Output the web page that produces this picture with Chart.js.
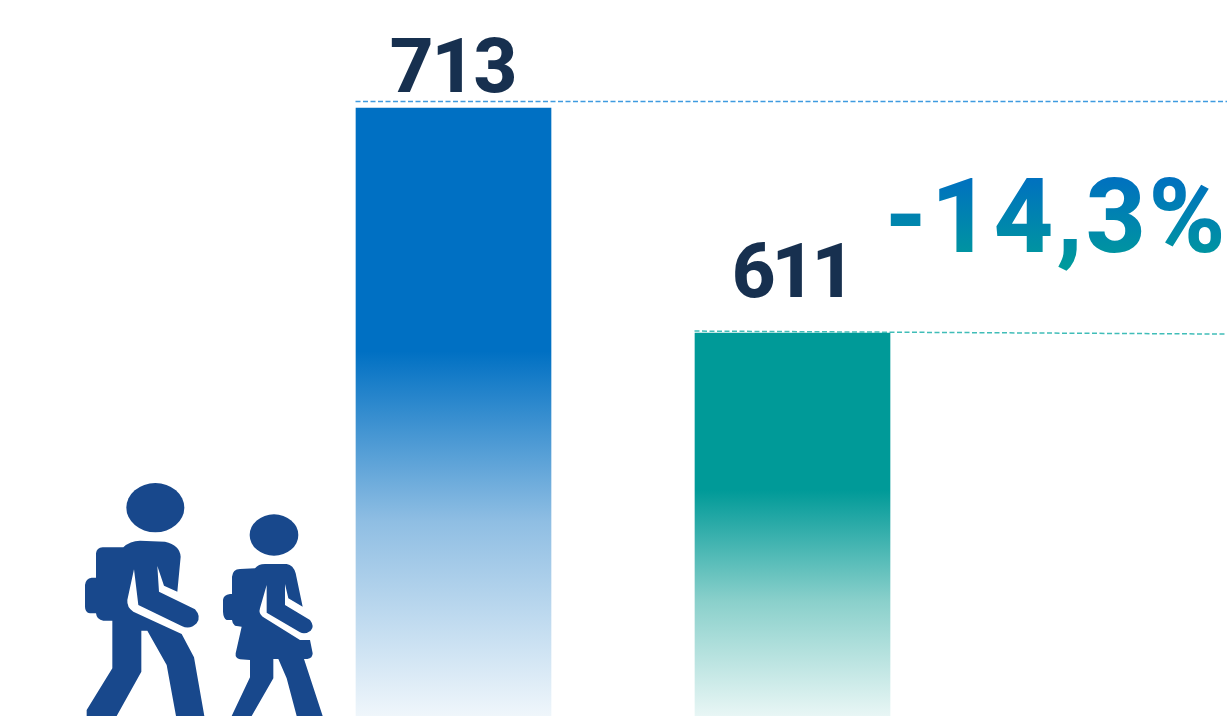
<!DOCTYPE html>
<html>
<head>
<meta charset="utf-8">
<style>html,body{margin:0;padding:0;background:#fff;overflow:hidden}canvas{display:block}</style>
<script src="https://cdn.jsdelivr.net/npm/chart.js@4/dist/chart.umd.min.js"></script>
</head>
<body>
<canvas id="c" width="1227" height="716"></canvas>
<script>
const categories = ['Periodo 1', 'Periodo 2'];
const values = [713, 611];
const barColors = ['#0070C3', '#009A98'];
const midColors = ['#8FBEE3', '#8AD0CB'];
const fadeColors = ['#EFF6FB', '#E8F6F5'];
const fadeStarts = [0.40, 0.41];
const midStops = [0.68, 0.70];
const changeLabel = '-14,3%';

function barFill(ctx) {
  const chart = ctx.chart, area = chart.chartArea;
  if (!area || ctx.dataIndex === undefined) return barColors[0];
  const i = ctx.dataIndex;
  const top = chart.scales.y.getPixelForValue(values[i]);
  const g = chart.ctx.createLinearGradient(0, top, 0, area.bottom);
  g.addColorStop(0, barColors[i]);
  g.addColorStop(fadeStarts[i], barColors[i]);
  g.addColorStop(midStops[i], midColors[i]);
  g.addColorStop(1, fadeColors[i]);
  return g;
}

const manPath = new Path2D('M160,232 Q180,212 210,212 L285,215 Q330,225 332,260 L322,365 L282,347 L262,288 L267,365 L375,418 Q395,440 380,460 Q360,480 335,468 L205,405 L192,298 L172,390 Q170,412 190,425 L335,492 L372,562 L403,738 L318,738 L290,585 L232,482 L214,482 L214,605 L140,738 L50,738 L50,720 L127,595 L127,452 L100,452 Q80,450 78,430 L60,430 Q45,428 45,410 L45,345 Q47,325 65,323 L78,323 L78,250 Q80,233 98,232 Z');
const girlPath = new Path2D('M555,295 Q565,282 585,282 L650,282 Q670,285 677,310 L698,410 L655,385 L645,342 L645,405 L720,450 Q735,470 722,482 Q705,495 690,487 L590,428 L590,345 L570,415 Q565,430 578,440 L690,510 L720,510 L728,550 Q728,565 712,567 L702,567 L758,738 L680,738 L650,625 L625,567 L610,567 L610,625 L545,738 L485,738 L540,622 L540,570 L510,568 Q495,565 497,550 L515,470 L495,467 Q487,462 486,450 L470,450 Q460,445 459,425 L459,390 Q460,375 480,372 L486,372 L486,320 Q488,298 510,297 Z');

const decor = {
  id: 'decor',
  afterDatasetsDraw(chart) {
    const c = chart.ctx, y = chart.scales.y, meta = chart.getDatasetMeta(0);
    c.save();
    c.lineWidth = 1.5; c.setLineDash([5, 2.5]);
    const y0 = y.getPixelForValue(values[0]), y1 = y.getPixelForValue(values[1]);
    c.strokeStyle = '#3F9BE0';
    c.beginPath(); c.moveTo(meta.data[0].x - 98, y0 - 6.5); c.lineTo(1227, y0 - 6.5); c.stroke();
    c.strokeStyle = '#40BDB8';
    c.beginPath(); c.moveTo(meta.data[1].x - 98, y1 - 2); c.lineTo(1227, y1 + 1); c.stroke();
    c.setLineDash([]);
    c.fillStyle = '#17304F'; c.textAlign = 'center'; c.textBaseline = 'alphabetic';
    c.font = '800 76px Roboto';
    c.letterSpacing = '-2px';
    c.fillText(String(values[0]), meta.data[0].x - 1, y0 - 16);
    c.letterSpacing = '-4px';
    c.fillText(String(values[1]), meta.data[1].x - 1, y1 - 36);
    const g = c.createLinearGradient(0, 176, 0, 266);
    g.addColorStop(0, '#0070C0'); g.addColorStop(1, '#009A9C');
    c.fillStyle = g; c.font = '800 104px Roboto'; c.textAlign = 'left';
    c.letterSpacing = '2.8px';
    c.fillText(changeLabel, 884, 252);
    c.letterSpacing = '0px';
    c.translate(70, 470); c.scale(1/3, 1/3);
    c.fillStyle = '#18488C';
    c.fill(manPath); c.fill(girlPath);
    c.beginPath(); c.ellipse(256, 113, 87, 74, 0, 0, 2*Math.PI); c.fill();
    c.beginPath(); c.ellipse(612, 195, 73, 62, 0, 0, 2*Math.PI); c.fill();
    c.restore();
  }
};

new Chart(document.getElementById('c'), {
  type: 'bar',
  data: { labels: categories, datasets: [{ data: values, backgroundColor: barFill, barThickness: 195, borderWidth: 0 }] },
  plugins: [decor],
  options: {
    responsive: false, animation: false,
    layout: { padding: { left: 284, right: 265, top: 0, bottom: 0 } },
    plugins: { legend: { display: false }, tooltip: { enabled: false } },
    scales: {
      x: { display: false },
      y: { display: false, min: 437.4, max: 762 }
    }
  }
});
</script>
</body>
</html>
